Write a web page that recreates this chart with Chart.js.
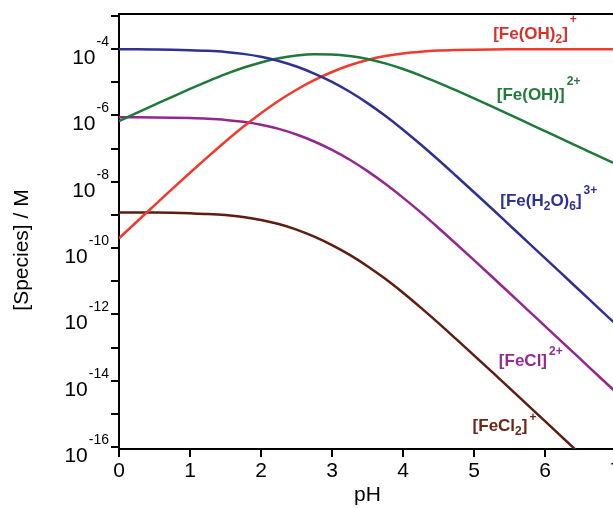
<!DOCTYPE html>
<html>
<head>
<meta charset="utf-8">
<title>Fe(III) speciation vs pH</title>
<script src="https://cdn.jsdelivr.net/npm/chart.js@4/dist/chart.umd.min.js"></script>
<style>
  html, body { margin: 0; padding: 0; overflow: hidden; background: #fff; }
  #wrap { width: 640px; height: 508px; }
</style>
</head>
<body>
<div id="wrap"><canvas id="speciesChart" width="640" height="508"></canvas></div>
<script>
// pH grid
const pH = [0, 0.25, 0.5, 0.75, 1, 1.25, 1.5, 1.75, 2, 2.25, 2.5, 2.75, 3, 3.25, 3.5,
            3.75, 4, 4.25, 4.5, 4.75, 5, 5.25, 5.5, 5.75, 6, 6.25, 6.5, 6.75, 7];

// concentrations in M
const feH2O6 = [9.93e-5, 9.89e-5, 9.79e-5, 9.64e-5, 9.35e-5, 8.91e-5, 8.22e-5, 7.21e-5, 5.89e-5,
  4.42e-5, 3.00e-5, 1.84e-5, 1.03e-5, 5.18e-6, 2.36e-6, 9.79e-7, 3.73e-7, 1.33e-7, 4.53e-8,
  1.49e-8, 4.84e-9, 1.56e-9, 4.95e-10, 1.57e-10, 4.99e-11, 1.58e-11, 5.00e-12, 1.58e-12, 5.01e-13];
const feOH = [6.71e-7, 1.19e-6, 2.09e-6, 3.66e-6, 6.33e-6, 1.07e-5, 1.76e-5, 2.74e-5, 3.98e-5,
  5.31e-5, 6.41e-5, 7.00e-5, 6.93e-5, 6.22e-5, 5.05e-5, 3.72e-5, 2.52e-5, 1.60e-5, 9.68e-6,
  5.68e-6, 3.27e-6, 1.87e-6, 1.06e-6, 5.98e-7, 3.37e-7, 1.90e-7, 1.07e-7, 6.03e-8, 3.39e-8];
const feOH2 = [1.98e-10, 6.24e-10, 1.95e-9, 6.08e-9, 1.87e-8, 5.62e-8, 1.64e-7, 4.55e-7, 1.17e-6,
  2.79e-6, 5.98e-6, 1.16e-5, 2.05e-5, 3.27e-5, 4.71e-5, 6.18e-5, 7.45e-5, 8.39e-5, 9.04e-5,
  9.42e-5, 9.66e-5, 9.82e-5, 9.89e-5, 9.94e-5, 9.96e-5, 9.98e-5, 9.99e-5, 9.99e-5, 1.00e-4];
const feCl = [8.85e-7, 8.81e-7, 8.73e-7, 8.59e-7, 8.34e-7, 7.94e-7, 7.33e-7, 6.43e-7, 5.25e-7,
  3.94e-7, 2.67e-7, 1.64e-7, 9.14e-8, 4.61e-8, 2.10e-8, 8.73e-9, 3.33e-9, 1.19e-9, 4.04e-10,
  1.33e-10, 4.32e-11, 1.39e-11, 4.42e-12, 1.40e-12, 4.45e-13, 1.41e-13, 4.46e-14, 1.41e-14, 4.47e-15];
const feCl2 = [1.19e-9, 1.19e-9, 1.18e-9, 1.16e-9, 1.12e-9, 1.07e-9, 9.89e-10, 8.67e-10, 7.08e-10,
  5.31e-10, 3.61e-10, 2.21e-10, 1.23e-10, 6.22e-11, 2.84e-11, 1.18e-11, 4.49e-12, 1.60e-12, 5.45e-13,
  1.79e-13, 5.82e-14, 1.87e-14, 5.96e-15, 1.89e-15, 6.00e-16, 1.90e-16, 6.01e-17, 1.91e-17, 6.03e-18];

// axis ticks
const xTicks = [0, 1, 2, 3, 4, 5, 6, 7];
const yTickExps = [-16, -15, -14, -13, -12, -11, -10, -9, -8, -7, -6, -5, -4, -3];

const FONT = '"Liberation Sans", Arial, Helvetica, sans-serif';

// species labels: parts are [text, 'n' | 'sub' | 'sup']
const speciesLabels = [
  { parts: [['[Fe(OH)', 'n'], ['2', 'sub'], [']', 'n'], ['+', 'sup']], at: [5.27, 2.0e-4], color: '#d8302a', supDy: -16 },
  { parts: [['[Fe(OH)]', 'n'], ['2+', 'sup']], at: [5.32, 2.9e-6], color: '#237a3c', supDy: -15 },
  { parts: [['[Fe(H', 'n'], ['2', 'sub'], ['O)', 'n'], ['6', 'sub'], [']', 'n'], ['3+', 'sup']], at: [5.37, 1.84e-9], color: '#2e3192', supDy: -12 },
  { parts: [['[FeCl]', 'n'], ['2+', 'sup']], at: [5.35, 2.75e-14], color: '#952a92', supDy: -11 },
  { parts: [['[FeCl', 'n'], ['2', 'sub'], [']', 'n'], ['+', 'sup']], at: [4.98, 3.0e-16], color: '#6a2716', supDy: -10 }
];

const series = [
  { data: feH2O6, color: '#2e3192' },
  { data: feOH, color: '#1f7a3a' },
  { data: feOH2, color: '#f23a2c' },
  { data: feCl, color: '#93278f' },
  { data: feCl2, color: '#5e1d0e' }
];

const decorPlugin = {
  id: 'decor',
  afterDraw(chart) {
    const { ctx, chartArea, scales } = chart;
    ctx.save();

    // top frame line
    ctx.strokeStyle = '#000';
    ctx.lineWidth = 2;
    ctx.beginPath();
    ctx.moveTo(chartArea.left - 1, chartArea.top);
    ctx.lineTo(chartArea.right + 30, chartArea.top);
    ctx.stroke();

    // y tick labels as 10 with raised exponent
    ctx.fillStyle = '#000';
    ctx.textAlign = 'right';
    ctx.textBaseline = 'alphabetic';
    yTickExps.forEach(e => {
      if (e % 2 !== 0) return;
      const y = scales.y.getPixelForValue(Math.pow(10, e));
      const right = scales.y.right - 10;
      ctx.font = '14px ' + FONT;
      const exp = String(e);
      ctx.fillText(exp, right, y - 3);
      const w = ctx.measureText(exp).width;
      ctx.font = '21px ' + FONT;
      ctx.fillText('10', right - w - 1, y + 15);
    });

    // y axis title
    ctx.save();
    ctx.translate(28, 250);
    ctx.rotate(-Math.PI / 2);
    ctx.textAlign = 'center';
    ctx.font = '21px ' + FONT;
    ctx.fillText('[Species] / M', 0, 0);
    ctx.restore();

    // species labels
    ctx.textAlign = 'left';
    speciesLabels.forEach(lab => {
      let x = scales.x.getPixelForValue(lab.at[0]);
      const y = scales.y.getPixelForValue(lab.at[1]);
      ctx.fillStyle = lab.color;
      lab.parts.forEach(([t, kind]) => {
        let dy = 0;
        if (kind === 'n') {
          ctx.font = 'bold 17px ' + FONT;
        } else {
          ctx.font = 'bold 12px ' + FONT;
          dy = kind === 'sub' ? 4 : lab.supDy;
          if (kind === 'sup') x += 2;
        }
        ctx.fillText(t, x, y + dy);
        x += ctx.measureText(t).width;
      });
    });

    ctx.restore();
  }
};

new Chart(document.getElementById('speciesChart'), {
  type: 'line',
  data: {
    datasets: series.map(s => ({
      data: pH.map((p, i) => ({ x: p, y: s.data[i] })),
      borderColor: s.color,
      borderWidth: 2.5,
      pointRadius: 0,
      fill: false,
      cubicInterpolationMode: 'monotone'
    }))
  },
  options: {
    responsive: false,
    animation: false,
    devicePixelRatio: 1,
    layout: { padding: { left: 0, right: 24, top: 14, bottom: 0 } },
    plugins: { legend: { display: false }, tooltip: { enabled: false } },
    scales: {
      x: {
        type: 'linear',
        min: 0,
        max: 7,
        afterBuildTicks: scale => { scale.ticks = xTicks.map(v => ({ value: v })); },
        afterFit: scale => { scale.height = 59; },
        border: { color: '#000', width: 2 },
        grid: { drawOnChartArea: false, color: '#000', lineWidth: 2, tickLength: 8 },
        ticks: { color: '#000', font: { size: 21, family: FONT }, padding: 2, maxRotation: 0 },
        title: { display: true, text: 'pH', color: '#000', font: { size: 21, family: FONT }, padding: { top: 0, bottom: 0 } }
      },
      y: {
        type: 'logarithmic',
        min: 8.7e-17,
        max: 1.15e-3,
        afterBuildTicks: scale => { scale.ticks = yTickExps.map(e => ({ value: Math.pow(10, e) })); },
        afterFit: scale => { scale.width = 119; },
        border: { color: '#000', width: 2 },
        grid: { drawOnChartArea: false, color: '#000', lineWidth: 2, tickLength: 8 },
        ticks: { callback: () => '' }
      }
    }
  },
  plugins: [decorPlugin]
});
</script>
</body>
</html>
